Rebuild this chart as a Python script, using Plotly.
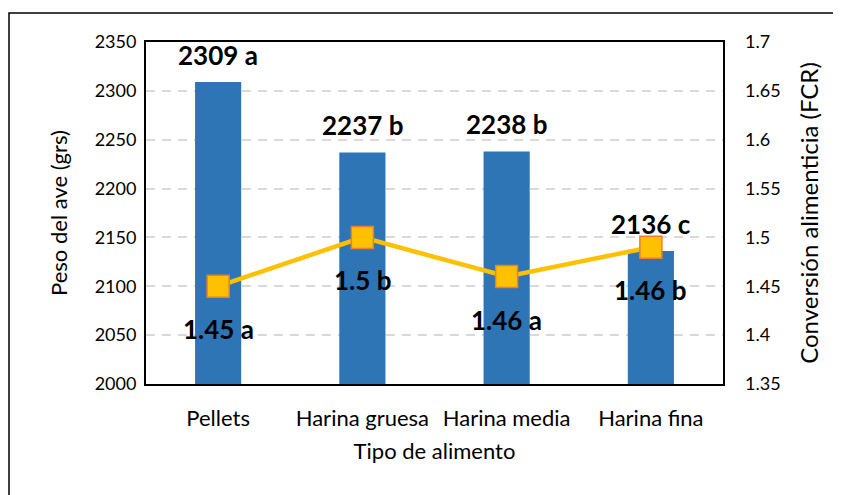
import plotly.graph_objects as go

categories = ["Pellets", "Harina gruesa", "Harina media", "Harina fina"]
peso = [2309, 2237, 2238, 2136]
peso_labels = ["2309 a", "2237 b", "2238 b", "2136 c"]
fcr = [1.45, 1.50, 1.46, 1.49]
fcr_labels = ["1.45 a", "1.5 b", "1.46 a", "1.46 b"]

FONT = "Lato, Carlito, Calibri, sans-serif"

fig = go.Figure()
fig.add_trace(go.Bar(x=categories, y=peso, marker=dict(color="#2E75B6", line=dict(width=0)),
                     yaxis="y", showlegend=False, hoverinfo="x+y"))
fig.add_trace(go.Scatter(x=categories, y=fcr, yaxis="y2", mode="lines+markers",
                         line=dict(color="#FFC000", width=4.5),
                         marker=dict(symbol="square", size=22, color="#FFC000",
                                     line=dict(color="#ED7D31", width=1.5)),
                         showlegend=False))

annotations = []
for c, v, t in zip(categories, peso, peso_labels):
    annotations.append(dict(x=c, y=v, xref="x", yref="y", text="<b>%s</b>" % t, showarrow=False,
                            yanchor="middle", yshift=27, font=dict(family=FONT, size=26, color="black")))
for c, v, t in zip(categories, fcr, fcr_labels):
    annotations.append(dict(x=c, y=v, xref="x", yref="y2", text="<b>%s</b>" % t, showarrow=False,
                            yanchor="middle", yshift=-43, font=dict(family=FONT, size=26, color="black")))

OFF = 8  # page body margin
W, H = 841, 495
L, R, T, B = 146 - OFF, 841 - 723 + OFF, 42 - OFF, 495 - 384 + OFF
pw, ph = W - L - R, H - T - B

def px(p):
    return (p - OFF - L) / pw

def py(p):
    return (H - B - (p - OFF)) / ph

fig.add_shape(type="rect", xref="paper", yref="paper", x0=px(9), x1=px(839.5), y0=py(510), y1=py(13),
              line=dict(color="black", width=1.5), fillcolor="rgba(0,0,0,0)", layer="below")

fig.update_layout(
    width=W, height=H,
    margin=dict(l=L, r=R, t=T, b=B, autoexpand=False),
    paper_bgcolor="white", plot_bgcolor="white",
    font=dict(family=FONT, size=16, color="black"),
    bargap=0.68,
    annotations=annotations,
    xaxis=dict(showline=True, linecolor="black", linewidth=2, mirror=True,
               showgrid=False, ticks="", tickfont=dict(size=22),
               ticklabelstandoff=14,
               title=dict(text="Tipo de alimento", font=dict(size=22), standoff=13)),
    yaxis=dict(range=[2000, 2350], dtick=50, showline=True, linecolor="black", linewidth=2,
               mirror=True, showgrid=True, gridcolor="#D9D9D9", gridwidth=1.5, griddash="9px,7px",
               tickfont=dict(size=18), ticks="", ticklabelstandoff=4, zeroline=False,
               title=dict(text="Peso del ave (grs)", font=dict(size=22), standoff=21)),
    yaxis2=dict(range=[1.35, 1.7], dtick=0.05, overlaying="y", side="right",
                showgrid=False, zeroline=False, showline=False, ticks="",
                tickfont=dict(size=18), ticklabelstandoff=21,
                title=dict(text="Conversión alimenticia (FCR)", font=dict(size=24), standoff=21)),
)

fig.write_html("out.html")
